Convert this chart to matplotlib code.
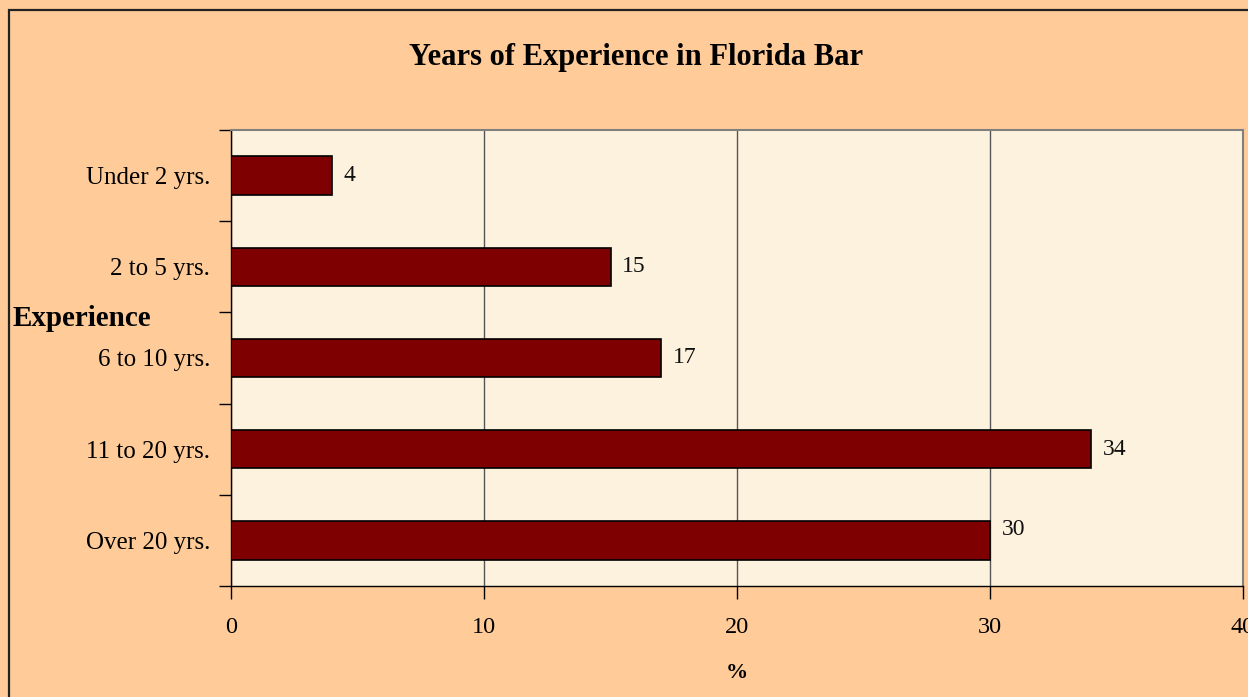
import matplotlib
matplotlib.use("Agg")
import matplotlib.pyplot as plt
from matplotlib.patches import Rectangle

categories = ["Under 2 yrs.", "2 to 5 yrs.", "6 to 10 yrs.", "11 to 20 yrs.", "Over 20 yrs."]
values = [4, 15, 17, 34, 30]
x_ticks = [0, 10, 20, 30, 40]

plt.rcParams['font.family'] = ['Liberation Serif', 'DejaVu Serif']

W, H = 1248, 697
fig = plt.figure(figsize=(W / 100, H / 100), dpi=100)
fig.patch.set_facecolor('#FFCC99')

# figure border (left and top visible)
fig.patches.append(Rectangle((9 / W, -0.5), 2, 0.5 + 1 - 10 / H, transform=fig.transFigure,
                             fill=False, edgecolor='#222222', linewidth=1.6, zorder=10))

ax = fig.add_axes([231 / W, 1 - 586 / H, (1243 - 231) / W, (586 - 130) / H])
ax.set_facecolor('#FDF2DD')

ypos = list(range(len(categories)))
ax.barh(ypos, values, height=0.42, color='#7F0000', edgecolor='black', linewidth=1.2, zorder=3)

for y, v in zip(ypos, values):
    dy = -0.12 if v == 30 else 0
    ax.text(v + 0.45, y + dy, str(v), va='center', ha='left', fontsize=17, color='#111111')

ax.set_xlim(0, 40)
ax.set_ylim(len(categories) - 0.5, -0.5)
ax.set_xticks(x_ticks)
ax.set_xticklabels([str(t) for t in x_ticks], fontsize=17.5)
ax.xaxis.grid(True, color='#555555', linewidth=1.0, zorder=1)
ax.set_axisbelow(True)

ax.set_yticks([i - 0.5 for i in range(len(categories) + 1)])
ax.set_yticklabels([])
ax.set_yticks(ypos, minor=True)
ax.set_yticklabels(categories, minor=True, fontsize=18)
ax.tick_params(axis='y', which='major', direction='out', length=9, width=1, color='black')
ax.tick_params(axis='y', which='minor', length=0, pad=15)
ax.tick_params(axis='x', direction='out', length=9, width=1, color='black', pad=13)

for s in ['left', 'bottom']:
    ax.spines[s].set_color('black')
    ax.spines[s].set_linewidth(1.0)
for s in ['top', 'right']:
    ax.spines[s].set_color('#808080')
    ax.spines[s].set_linewidth(1.5)

fig.text(636 / W, 1 - 57 / H, "Years of Experience in Florida Bar", ha='center', va='center',
         fontsize=22, fontweight='bold')
fig.text(13 / W, 1 - 318 / H, "Experience", ha='left', va='center', fontsize=21, fontweight='bold')
fig.text(737 / W, 1 - 673 / H, "%", ha='center', va='center', fontsize=16, fontweight='bold')

fig.savefig('out.png', dpi=100, facecolor=fig.get_facecolor())
